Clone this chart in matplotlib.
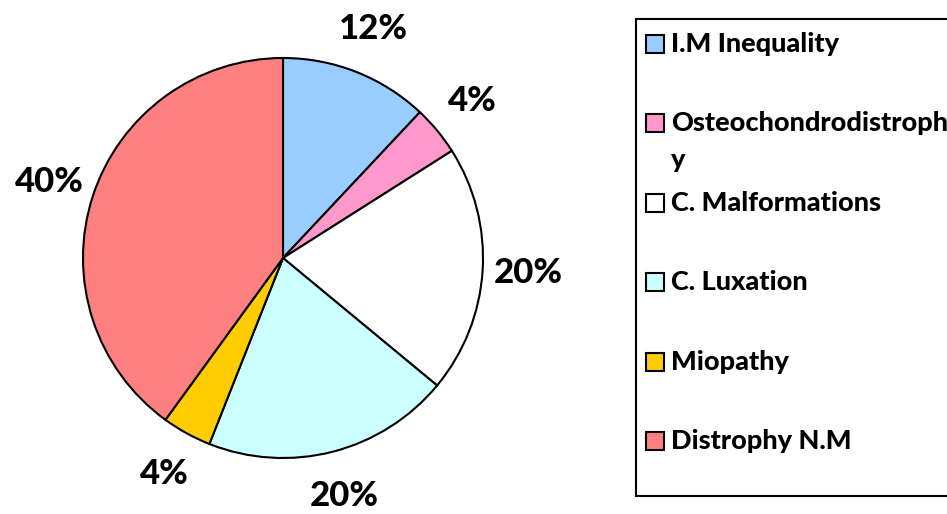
import matplotlib
matplotlib.use("Agg")
import matplotlib.pyplot as plt
from matplotlib.patches import Rectangle

categories = ["I.M Inequality", "Osteochondrodistroph\ny", "C. Malformations",
              "C. Luxation", "Miopathy", "Distrophy N.M"]
values = [12, 4, 20, 20, 4, 40]
colors = ["#99CCFF", "#FF99CC", "#FFFFFF", "#CCFFFF", "#FFCC00", "#FF8080"]

W, H = 947, 514
fig = plt.figure(figsize=(W / 100, H / 100), dpi=100)
plt.rcParams['font.family'] = ['Lato', 'DejaVu Sans']

cx, cy, R = 283, 258, 200
ax = fig.add_axes([(cx - R) / W, (H - cy - R) / H, 2 * R / W, 2 * R / H])
wedges, texts, autotexts = ax.pie(
    values, colors=colors, startangle=90, counterclock=False,
    autopct=lambda p: f"{p:.0f}%", pctdistance=1.23,
    wedgeprops=dict(edgecolor="black", linewidth=1.5))
for t in autotexts:
    t.set_fontsize(25)
    t.set_fontweight("black")
ax.set_xlim(-1, 1)
ax.set_ylim(-1, 1)
ax.set_aspect("equal")
ax.axis("off")

def fx(px):
    return px / W

def fy(py):
    return 1 - py / H

# legend frame
fig.patches.append(Rectangle((fx(636), fy(496)), fx(960) - fx(636), fy(19) - fy(496),
                             transform=fig.transFigure, facecolor="white",
                             edgecolor="black", linewidth=1.5, zorder=0))
rows = [44, 123, 203, 282, 362, 441]
for lab, col, ry in zip(categories, colors, rows):
    fig.patches.append(Rectangle((fx(646), fy(ry + 9)), 18 / W, 18 / H,
                                 transform=fig.transFigure, facecolor=col,
                                 edgecolor="black", linewidth=1.5))
    lines = lab.split("\n")
    for i, ln in enumerate(lines):
        fig.text(fx(671), fy(ry + i * 37), ln, fontsize=19.5, fontweight="black",
                 va="center", ha="left")

fig.savefig("out.png", dpi=100)
